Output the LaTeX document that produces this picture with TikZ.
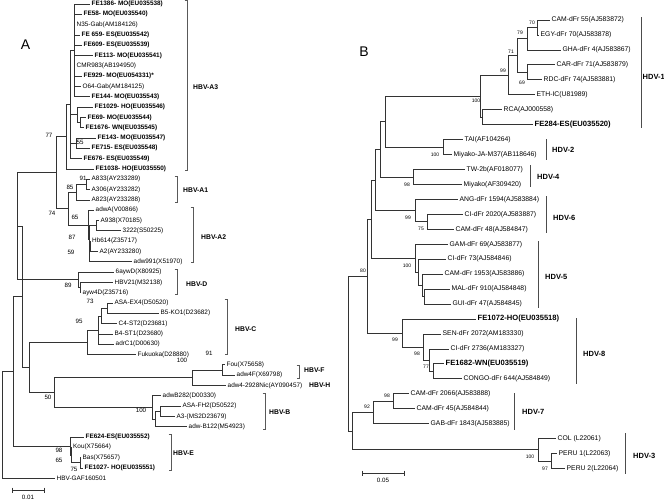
\documentclass[tikz,border=0pt]{standalone}
\usepackage{fontspec}
\setmainfont{Liberation Sans}
\newcommand\mytip[5]{\coordinate (#1) at (#2,#3); \node[#5] (#1t) at (#1) {#4};}
\newcommand\mynd[3]{\coordinate (#1) at (#2,#3);}
\newcommand\mybr[2]{\draw[edgeline] (#1) |- (#2);}
\newcommand\lbrk[6]{\draw[brk] (#2-2.5,#3) -- (#2,#3) -- (#2,#4) -- (#2-2.5,#4); \node[grp] (#1) at (#5,#6) {#1};}
\newcommand\rbrk[6]{\draw[brkr] (#2,#3) -- (#2,#4); \node[grpr] (#1) at (#5,#6) {#1};}
\tikzset{
 edgeline/.style={draw=black!80, line width=0.75pt},
 lt/.style={font=\fontsize{6.4}{7}\selectfont, inner xsep=1.5pt, inner ysep=0pt, anchor=west},
 ltb/.style={lt, font=\fontsize{6.4}{7}\selectfont\bfseries},
 rt/.style={font=\fontsize{6.8}{8}\selectfont, inner xsep=1.5pt, inner ysep=0pt, anchor=west},
 rtb/.style={rt, font=\fontsize{7.6}{9}\selectfont\bfseries},
 lbs/.style={font=\fontsize{6.2}{7}\selectfont, inner sep=0pt},
 rbs/.style={font=\fontsize{5}{6}\selectfont, inner sep=0pt},
 grp/.style={font=\fontsize{6.8}{8}\selectfont\bfseries, inner sep=0pt, anchor=west},
 grpr/.style={font=\fontsize{7.5}{9}\selectfont\bfseries, inner sep=0pt, anchor=west},
 brk/.style={draw=black!65, line width=0.7pt},
 brkr/.style={draw=black!70, line width=0.8pt},
}
\begin{document}
\begin{tikzpicture}[x=1pt,y=-1pt]
\useasboundingbox (0,0) rectangle (664,501);
\node[font=\fontsize{14}{16}\selectfont] (pA) at (25.5,44.5) {A};
\node[font=\fontsize{14}{16}\selectfont] (pB) at (364,52) {B};
% ---------------- LEFT TREE tips
\mytip{L0}{90}{4}{FE1386- MO(EU035538)}{ltb}
\mytip{L1}{82}{14.31}{FE58- MO(EU035540)}{ltb}
\mytip{L2}{75}{24.62}{N35-Gab(AM184126)}{lt}
\mytip{L3}{80}{34.93}{FE 659- ES(EU035542)}{ltb}
\mytip{L4}{82}{45.24}{FE609- ES(EU035539)}{ltb}
\mytip{L5}{93}{55.55}{FE113- MO(EU035541)}{ltb}
\mytip{L6}{75}{65.86}{CMR983(AB194950)}{lt}
\mytip{L7}{82}{76.17}{FE929- MO(EU054331)*}{ltb}
\mytip{L8}{81}{86.48}{O64-Gab(AM184125)}{lt}
\mytip{L9}{90}{96.79}{FE144- MO(EU035543)}{ltb}
\mytip{L10}{93}{107.1}{FE1029- HO(EU035546)}{ltb}
\mytip{L11}{86}{117.41}{FE69- MO(EU035544)}{ltb}
\mytip{L12}{84}{127.72}{FE1676- WN(EU035545)}{ltb}
\mytip{L13}{96}{138.03}{FE143- MO(EU035547)}{ltb}
\mytip{L14}{90}{148.34}{FE715- ES(EU035548)}{ltb}
\mytip{L15}{82}{158.65}{FE676- ES(EU035549)}{ltb}
\mytip{L16}{94}{168.96}{FE1038- HO(EU035550)}{ltb}
\mytip{L17}{90}{179.27}{A833(AY233289)}{lt}
\mytip{L18}{90}{189.58}{A306(AY233282)}{lt}
\mytip{L19}{90}{199.89}{A823(AY233288)}{lt}
\mytip{L20}{94}{210.2}{adwA(V00866)}{lt}
\mytip{L21}{99}{220.51}{A938(X70185)}{lt}
\mytip{L22}{121}{230.82}{3222(S50225)}{lt}
\mytip{L23}{90.5}{241.13}{Hb614(Z35717)}{lt}
\mytip{L24}{98}{251.44}{A2(AY233280)}{lt}
\mytip{L25}{132}{261.75}{adw991(X51970)}{lt}
\mytip{L26}{114}{272.06}{6aywD(X80925)}{lt}
\mytip{L27}{113}{282.37}{HBV21(M32138)}{lt}
\mytip{L28}{81}{292.68}{ayw4D(Z35716)}{lt}
\mytip{L29}{113}{302.99}{ASA-EX4(D50520)}{lt}
\mytip{L30}{159}{313.3}{B5-KO1(D23682)}{lt}
\mytip{L31}{117}{323.61}{C4-ST2(D23681)}{lt}
\mytip{L32}{113}{333.92}{B4-ST1(D23680)}{lt}
\mytip{L33}{114}{344.23}{adrC1(D00630)}{lt}
\mytip{L34}{136}{354.54}{Fukuoka(D28880)}{lt}
\mytip{L35}{225}{364.85}{Fou(X75658)}{lt}
\mytip{L36}{235}{375.16}{adw4F(X69798)}{lt}
\mytip{L37}{226}{385.47}{adw4-2928Nic(AY090457)}{lt}
\mytip{L38}{161}{395.78}{adwB282(D00330)}{lt}
\mytip{L39}{181}{406.09}{ASA-FH2(D50522)}{lt}
\mytip{L40}{175}{416.4}{A3-(MS2D23679)}{lt}
\mytip{L41}{187}{426.71}{adw-B122(M54923)}{lt}
\mytip{L42}{84}{437.02}{FE624-ES(EU035552)}{ltb}
\mytip{L43}{71.5}{447.33}{Kou(X75664)}{lt}
\mytip{L44}{81}{457.64}{Bas(X75657)}{lt}
\mytip{L45}{83}{467.95}{FE1027- HO(EU035551)}{ltb}
\mytip{L46}{55}{478.26}{HBV-GAF160501}{lt}
% LEFT internal nodes
\mynd{s1}{74}{50.4}
\mynd{s2a}{80}{122.57}
\mynd{s2}{77}{114.83}
\mynd{s3}{76}{143.19}
\mynd{sA}{70}{104.5}
\mynd{A3n}{66}{136.7}
\mynd{A1a}{86}{184.4}
\mynd{A1n}{76}{192.15}
\mynd{p1}{96}{225.67}
\mynd{p2}{90}{246.3}
\mynd{q2}{89.5}{254.0}
\mynd{q1}{89}{239.8}
\mynd{A2n}{88}{225.0}
\mynd{A12}{68}{208.6}
\mynd{An}{56}{172.6}
\mynd{Dd}{80}{287.5}
\mynd{Dn}{78}{279.8}
\mynd{G3}{17}{226.2}
\mynd{n1}{107}{308.1}
\mynd{n2}{101}{315.9}
\mynd{n3}{98}{330.1}
\mynd{Cn}{87}{342.3}
\mynd{Fn}{222}{370.0}
\mynd{FH}{192}{377.7}
\mynd{b2}{160}{411.2}
\mynd{b1}{155}{419.0}
\mynd{Bn}{152}{407.4}
\mynd{FHB}{54}{392.6}
\mynd{G4}{29}{367.5}
\mynd{G2}{22}{296.8}
\mynd{e2}{80}{462.8}
\mynd{e1}{71}{455.1}
\mynd{En}{70}{446.1}
\mynd{G1}{13}{371.5}
\mynd{Rt}{2}{424.9}
% LEFT branches
\foreach \c in {L0,L1,L2,L3,L4,L5,L6,L7,L8,L9} {\mybr{s1}{\c}}
\mybr{s2a}{L11}\mybr{s2a}{L12}
\mybr{s2}{L10}\mybr{s2}{s2a}
\mybr{s3}{L13}\mybr{s3}{L14}
\mybr{sA}{s1}\mybr{sA}{s2}\mybr{sA}{s3}\mybr{sA}{L15}
\mybr{A3n}{sA}\mybr{A3n}{L16}
\mybr{A1a}{L17}\mybr{A1a}{L18}
\mybr{A1n}{A1a}\mybr{A1n}{L19}
\mybr{p1}{L21}\mybr{p1}{L22}
\mybr{p2}{L23}\mybr{p2}{L24}
\mybr{q2}{p2}\mybr{q2}{L25}
\mybr{q1}{p1}\mybr{q1}{q2}
\mybr{A2n}{L20}\mybr{A2n}{q1}
\mybr{A12}{A1n}\mybr{A12}{A2n}
\mybr{An}{A3n}\mybr{An}{A12}
\mybr{Dd}{L27}\mybr{Dd}{L28}
\mybr{Dn}{L26}\mybr{Dn}{Dd}
\mybr{G3}{An}\mybr{G3}{Dn}
\mybr{n1}{L29}\mybr{n1}{L30}
\mybr{n2}{n1}\mybr{n2}{L31}
\mybr{n3}{n2}\mybr{n3}{L32}\mybr{n3}{L33}
\mybr{Cn}{n3}\mybr{Cn}{L34}
\mybr{Fn}{L35}\mybr{Fn}{L36}
\mybr{FH}{Fn}\mybr{FH}{L37}
\mybr{b2}{L39}\mybr{b2}{L40}
\mybr{b1}{b2}\mybr{b1}{L41}
\mybr{Bn}{L38}\mybr{Bn}{b1}
\mybr{FHB}{FH}\mybr{FHB}{Bn}
\mybr{G4}{Cn}\mybr{G4}{FHB}
\mybr{G2}{G3}\mybr{G2}{G4}
\mybr{e2}{L44}\mybr{e2}{L45}
\mybr{e1}{L43}\mybr{e1}{e2}
\mybr{En}{L42}\mybr{En}{e1}
\mybr{G1}{G2}\mybr{G1}{En}
\mybr{Rt}{G1}\mybr{Rt}{L46}
% LEFT bootstrap
\node[lbs] (bl1) at (49,135) {77};
\node[lbs] (bl2) at (80,142) {55};
\node[lbs] (bl3) at (83,178) {91};
\node[lbs] (bl4) at (70,187) {85};
\node[lbs] (bl5) at (52,213) {74};
\node[lbs] (bl6) at (75,217) {65};
\node[lbs] (bl7) at (72,237) {87};
\node[lbs] (bl8) at (71,252) {59};
\node[lbs] (bl9) at (68,285) {89};
\node[lbs] (bl10) at (90,301) {73};
\node[lbs] (bl11) at (79,321) {95};
\node[lbs] (bl12) at (209,353) {91};
\node[lbs] (bl13) at (182,360) {100};
\node[lbs] (bl14) at (48,397) {50};
\node[lbs] (bl15) at (141,410) {100};
\node[lbs] (bl16) at (59,450) {98};
\node[lbs] (bl17) at (59,460) {65};
\node[lbs] (bl18) at (74,469) {75};
% LEFT groups
\lbrk{HBV-A3}{187}{0.8}{170}{193}{87}
\lbrk{HBV-A1}{177}{176}{202}{183}{190}
\lbrk{HBV-A2}{193}{207}{262}{201}{237}
\lbrk{HBV-D}{177}{269}{294}{186}{284}
\lbrk{HBV-C}{227}{299}{354}{235}{329}
\lbrk{HBV-F}{299}{365}{378}{304}{370}
\node[grp] (HBV-H) at (309,385.5) {HBV-H};
\lbrk{HBV-B}{265}{393}{429}{269}{412}
\lbrk{HBV-E}{171}{434}{470}{173}{453}
% LEFT scale
\coordinate (sl1) at (12,490); \coordinate (sl2) at (44,490);
\draw[edgeline, line width=0.6pt] (sl1) -- (sl2);
\draw[edgeline, line width=0.6pt] (12,487.5) -- (12,492.5) (44,487.5) -- (44,492.5);
\node[lbs] (sll) at (28,497.5) {0.01};
% ---------------- RIGHT TREE tips
\mytip{R0}{550}{20}{CAM-dFr 55(AJ583872)}{rt}
\mytip{R1}{539}{34.95}{EGY-dFr 70(AJ583878)}{rt}
\mytip{R2}{561}{49.9}{GHA-dFr 4(AJ583867)}{rt}
\mytip{R3}{555}{64.85}{CAR-dFr 71(AJ583879)}{rt}
\mytip{R4}{542}{79.8}{RDC-dFr 74(AJ583881)}{rt}
\mytip{R5}{535}{94.75}{ETH-IC(U81989)}{rt}
\mytip{R6}{502}{109.7}{RCA(AJ000558)}{rt}
\mytip{R7}{533}{124.65}{FE284-ES(EU035520)}{rtb}
\mytip{R8}{463}{139.6}{TAI(AF104264)}{rt}
\mytip{R9}{452}{154.55}{Miyako-JA-M37(AB118646)}{rt}
\mytip{R10}{465}{169.5}{TW-2b(AF018077)}{rt}
\mytip{R11}{462}{184.45}{Miyako(AF309420)}{rt}
\mytip{R12}{458}{199.4}{ANG-dFr 1594(AJ583884)}{rt}
\mytip{R13}{463}{214.35}{CI-dFr 2020(AJ583887)}{rt}
\mytip{R14}{454}{229.3}{CAM-dFr 48(AJ584847)}{rt}
\mytip{R15}{448}{244.25}{GAM-dFr 69(AJ583877)}{rt}
\mytip{R16}{446}{259.2}{CI-dFr 73(AJ584846)}{rt}
\mytip{R17}{443}{274.15}{CAM-dFr 1953(AJ583886)}{rt}
\mytip{R18}{450}{289.1}{MAL-dFr 910(AJ584848)}{rt}
\mytip{R19}{451}{304.05}{GUI-dFr 47(AJ584845)}{rt}
\mytip{R20}{476}{319.0}{FE1072-HO(EU035518)}{rtb}
\mytip{R21}{441}{333.95}{SEN-dFr 2072(AM183330)}{rt}
\mytip{R22}{449}{348.9}{CI-dFr 2736(AM183327)}{rt}
\mytip{R23}{444}{363.85}{FE1682-WN(EU035519)}{rtb}
\mytip{R24}{462}{378.8}{CONGO-dFr 644(AJ584849)}{rt}
\mytip{R25}{409}{393.75}{CAM-dFr 2066(AJ583888)}{rt}
\mytip{R26}{415}{408.7}{CAM-dFr 45(AJ584844)}{rt}
\mytip{R27}{429}{423.65}{GAB-dFr 1843(AJ583885)}{rt}
\mytip{R28}{556}{438.6}{COL (L22061)}{rt}
\mytip{R29}{557}{453.55}{PERU 1(L22063)}{rt}
\mytip{R30}{565}{468.5}{PERU 2(L22064)}{rt}
% RIGHT internal nodes
\mynd{a1}{537}{27.5}
\mynd{a2}{527}{38.7}
\mynd{a3}{527}{72.3}
\mynd{a4}{517}{55.5}
\mynd{a5}{508}{75.1}
\mynd{a6}{482}{117.2}
\mynd{a7}{480}{96.1}
\mynd{h2}{443}{147.1}
\mynd{k1}{385}{121.6}
\mynd{h4}{413}{177.0}
\mynd{k2}{380}{149.3}
\mynd{h6a}{427}{221.8}
\mynd{h6}{415}{210.6}
\mynd{k3}{375}{180.0}
\mynd{c3}{424}{296.6}
\mynd{c2}{422}{285.4}
\mynd{c1}{418}{272.3}
\mynd{h5}{415}{258.3}
\mynd{k4}{371}{219.1}
\mynd{e4}{433}{371.3}
\mynd{e3}{429}{360.1}
\mynd{e2r}{423}{347.0}
\mynd{h8}{402}{333.0}
\mynd{k5}{367}{276.1}
\mynd{f2}{393}{401.2}
\mynd{h7}{373}{412.4}
\mynd{g2}{551}{461.0}
\mynd{h3}{538}{449.8}
\mynd{r2}{352}{431.1}
\mynd{r1}{348}{353.6}
% RIGHT branches
\mybr{a1}{R0}\mybr{a1}{R1}
\mybr{a2}{a1}\mybr{a2}{R2}
\mybr{a3}{R3}\mybr{a3}{R4}
\mybr{a4}{a2}\mybr{a4}{a3}
\mybr{a5}{a4}\mybr{a5}{R5}
\mybr{a6}{R6}\mybr{a6}{R7}
\mybr{a7}{a5}\mybr{a7}{a6}
\mybr{h2}{R8}\mybr{h2}{R9}
\mybr{k1}{a7}\mybr{k1}{h2}
\mybr{h4}{R10}\mybr{h4}{R11}
\mybr{k2}{k1}\mybr{k2}{h4}
\mybr{h6a}{R13}\mybr{h6a}{R14}
\mybr{h6}{R12}\mybr{h6}{h6a}
\mybr{k3}{k2}\mybr{k3}{h6}
\mybr{c3}{R18}\mybr{c3}{R19}
\mybr{c2}{R17}\mybr{c2}{c3}
\mybr{c1}{R16}\mybr{c1}{c2}
\mybr{h5}{R15}\mybr{h5}{c1}
\mybr{k4}{k3}\mybr{k4}{h5}
\mybr{e4}{R23}\mybr{e4}{R24}
\mybr{e3}{R22}\mybr{e3}{e4}
\mybr{e2r}{R21}\mybr{e2r}{e3}
\mybr{h8}{R20}\mybr{h8}{e2r}
\mybr{k5}{k4}\mybr{k5}{h8}
\mybr{f2}{R25}\mybr{f2}{R26}
\mybr{h7}{f2}\mybr{h7}{R27}
\mybr{g2}{R29}\mybr{g2}{R30}
\mybr{h3}{R28}\mybr{h3}{g2}
\mybr{r2}{h7}\mybr{r2}{h3}
\mybr{r1}{k5}\mybr{r1}{r2}
% RIGHT bootstrap
\node[rbs] (br1) at (532,23) {70};
\node[rbs] (br2) at (520,33) {79};
\node[rbs] (br3) at (511,52) {71};
\node[rbs] (br4) at (503,71) {99};
\node[rbs] (br5) at (522,83) {69};
\node[rbs] (br6) at (476,101) {100};
\node[rbs] (br7) at (435,155) {100};
\node[rbs] (br8) at (407,185) {98};
\node[rbs] (br9) at (408,218) {99};
\node[rbs] (br10) at (421,229) {75};
\node[rbs] (br11) at (363,271) {80};
\node[rbs] (br12) at (407,266) {100};
\node[rbs] (br13) at (395,340) {99};
\node[rbs] (br14) at (417,354) {98};
\node[rbs] (br15) at (426,367) {77};
\node[rbs] (br16) at (387,396) {98};
\node[rbs] (br17) at (367,407) {92};
\node[rbs] (br18) at (530,457) {100};
\node[rbs] (br19) at (545,469) {97};
% RIGHT groups
\rbrk{HDV-1}{641}{17}{128}{642.5}{77}
\rbrk{HDV-2}{546}{139}{160}{552}{150}
\rbrk{HDV-4}{530}{165}{187}{537}{177}
\rbrk{HDV-6}{546}{196}{233}{553}{218}
\rbrk{HDV-5}{538}{241}{308}{545}{277}
\rbrk{HDV-8}{576}{318}{384}{583}{354}
\rbrk{HDV-7}{514}{393}{430}{522}{412}
\rbrk{HDV-3}{625}{433}{474}{633}{456}
% RIGHT scale
\coordinate (sr1) at (362,473); \coordinate (sr2) at (404,473);
\draw[edgeline, line width=0.6pt] (sr1) -- (sr2);
\draw[edgeline, line width=0.6pt] (362,470.5) -- (362,475.5) (404,470.5) -- (404,475.5);
\node[lbs] (srl) at (383,480.5) {0.05};
\end{tikzpicture}
\end{document}
